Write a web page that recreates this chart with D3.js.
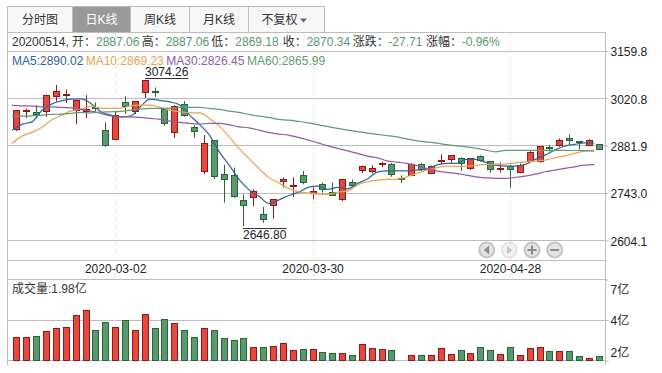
<!DOCTYPE html>
<html>
<head>
<meta charset="utf-8">
<script src="https://cdn.jsdelivr.net/npm/d3@7"></script>
<style>
  html, body { margin: 0; padding: 0; background: #fff; }
  svg { display: block; }
  text { font-family: "Liberation Sans", "Noto Sans CJK SC", sans-serif; font-size: 12px; }
</style>
</head>
<body>
<div id="chart"></div>
<script>
// daily candles, one entry per trading day
var dates = [
  "2020-02-17","2020-02-18","2020-02-19","2020-02-20","2020-02-21","2020-02-24","2020-02-25","2020-02-26","2020-02-27","2020-02-28",
  "2020-03-02","2020-03-03","2020-03-04","2020-03-05","2020-03-06","2020-03-09","2020-03-10","2020-03-11","2020-03-12","2020-03-13",
  "2020-03-16","2020-03-17","2020-03-18","2020-03-19","2020-03-20","2020-03-23","2020-03-24","2020-03-25","2020-03-26","2020-03-27",
  "2020-03-30","2020-03-31","2020-04-01","2020-04-02","2020-04-03","2020-04-07","2020-04-08","2020-04-09","2020-04-10","2020-04-13",
  "2020-04-14","2020-04-15","2020-04-16","2020-04-17","2020-04-20","2020-04-21","2020-04-22","2020-04-23","2020-04-24","2020-04-27",
  "2020-04-28","2020-04-29","2020-04-30","2020-05-06","2020-05-07","2020-05-08","2020-05-11","2020-05-12","2020-05-13","2020-05-14"
];
var opens = [
  2929,2981,2979,2982,3025,3028,2984,2981,2995,2927,
  2901,3009,2982,3038,3042,2988,2920,3003,2936,2806,
  2898,2798,2795,2722,2730,2681,2707,2776,2763,2796,
  2742,2769,2745,2725,2774,2810,2807,2827,2827,2787,
  2795,2827,2801,2838,2841,2845,2815,2851,2835,2811,
  2822,2804,2835,2836,2877,2884,2903,2895,2883,2887.06
];
var highs = [
  2986,2991,3001,3032,3060,3047,3016,3030,3009,2950,
  2981,3027,3012,3074.26,3053,2991,3001,3013,2942,2913,
  2898,2826,2818,2739,2754,2703,2723,2789,2789,2808,
  2760,2773,2774,2783,2783,2824,2825,2835,2831,2795,
  2830,2831,2824,2857,2853,2848,2844,2854,2837,2833,
  2825,2830,2866,2880,2884,2903,2915,2896,2901,2887.06
];
var lows = [
  2925,2963,2963,2967,3011,3007,2945,2963,2981,2879,
  2900,2975,2975,3022,3025,2940,2905,2967,2905,2799,
  2784,2715,2729,2646.8,2705,2656,2668,2759,2732,2769,
  2725,2744,2734,2720,2762,2802,2801,2819,2791,2773,
  2795,2808,2799,2827,2832,2808,2811,2835,2803,2803,
  2759,2801,2835,2832,2865,2879,2884,2871,2881,2869.18
];
var closes = [
  2985,2984,2975,3029,3041,3033,3016,2989,2992,2883,
  2971,2996,3012,3072,3038,2947,2998,2970,2923,2889,
  2791,2783,2733,2707,2747,2665,2723,2783,2766,2774,
  2748,2754,2735,2783,2766,2821,2815,2829,2798,2785,
  2827,2811,2820,2840,2853,2831,2844,2838,2813,2815,
  2811,2823,2862,2880,2873,2898,2898,2891,2898,2870.34
];
var volumes = [
  3.22,3.22,3.28,3.61,3.81,3.87,4.66,4.98,3.68,4.2,
  3.87,4.33,3.68,4.72,3.81,4.39,4.13,3.68,3.22,3.81,
  3.68,3.15,3.02,3.15,2.56,2.56,2.63,2.82,2.37,2.43,
  2.43,2.24,2.17,2.17,2.04,2.76,2.5,2.43,2.37,1.73,
  2.04,2.04,2.04,2.5,2.11,2.37,2.17,2.56,2.37,2.11,
  2.56,2.04,2.5,2.56,2.3,2.3,2.3,1.97,1.84,1.98
];
var ma5 = [
  2927,2944.6,2952,2984.4,3004,3013.7,3018.7,3019.6,3006,2981.5,
  2971.8,2966.8,2968.9,2996.2,3018.7,3014.9,3010.8,3001.1,2971.8,2944.6,
  2913.2,2864.2,2825.2,2783.3,2753.4,2734.3,2712.9,2722.6,2735.2,2745.2,
  2759.8,2763.6,2754,2759.8,2755.7,2771.6,2784.2,2804.7,2808.5,2808.5,
  2808.5,2810.6,2812.6,2825.2,2830.2,2830.2,2841.9,2841.9,2833.1,2825.2,
  2822.3,2822.3,2827.3,2841.9,2854.5,2869.2,2880.9,2885.9,2890.6,2890.02
];
var ma10 = [
  2888.8,2910.2,2921.1,2935.8,2957.2,2971.8,2984.4,2989.4,2998.2,2991.5,
  2991.5,2991.5,2999.1,3001.1,3001.1,2994.4,2986.5,2981.5,2978.6,2978.6,
  2962.1,2939.6,2908.2,2874.2,2844.9,2815.5,2789.2,2773.3,2756.9,2746.9,
  2744,2740.2,2739.3,2746.1,2749,2766.6,2776.3,2781.2,2783.3,2783.3,
  2790.9,2800.9,2810.6,2817.3,2822.3,2821.4,2822.3,2824.3,2827.3,2828.2,
  2828.2,2832,2834.9,2837,2839.9,2846.6,2852.5,2859.5,2866.3,2869.23
];
var ma30 = [
  3000.3,2999.1,2998.2,2996.2,2996.2,2994.4,2993.2,2988.5,2983.5,2976.8,
  2969.8,2966.8,2966.8,2965.1,2962.1,2959.2,2954.2,2950.4,2947.5,2945.4,
  2947.5,2947.5,2943.4,2937.5,2934.6,2927.8,2921.1,2916.1,2913.2,2906.4,
  2898.5,2890.6,2881.8,2874.2,2867.1,2859.5,2851.6,2846.6,2837.8,2834,
  2830.2,2823.2,2815.5,2808.5,2803.8,2800.9,2795.9,2790.9,2788,2786.2,
  2786.2,2789.2,2793,2798.8,2805.6,2810.6,2815.5,2820.2,2825.2,2826.45
];
var ma60 = [
  2968.9,2968.9,2969.8,2971.8,2973.9,2974.8,2976.8,2979.7,2978.6,2980.6,
  2981.5,2982.7,2986.5,2989.4,2991.5,2991.5,2992.3,2994.4,2994.4,2994.4,
  2991.5,2988.5,2983.5,2979.7,2973.9,2968.9,2965.1,2959.2,2957.2,2953.4,
  2949.2,2944,2938.1,2932.8,2927.8,2923.4,2919,2915.2,2911.7,2907.9,
  2902,2896.5,2893.2,2889.7,2885.3,2881.8,2878.9,2875,2869.2,2864.2,
  2868.3,2868.3,2868.3,2868.3,2868.2,2868.2,2868.1,2868,2867.5,2865.99
];

var priceTicks = [3159.8, 3020.8, 2881.9, 2743, 2604.1];
var volumeTicks = [7, 4.35, 1.7];
var dateTicks = ["2020-03-02", "2020-03-30", "2020-04-28"];
var tabs = ["分时图", "日K线", "周K线", "月K线", "不复权"];

var maNames = ["MA5", "MA10", "MA30", "MA60"];
var maLabels = ["2890.02", "2869.23", "2826.45", "2865.99"];
var maSeries = [ma5, ma10, ma30, ma60];
var maColors = ["#2f6496", "#e8a451", "#8f5ba6", "#5f9a76"];

var infoLabels = ["20200514, 开：", "高：", "低：", "收：", "涨跌：", "涨幅："];
var infoValues = ["2887.06", "2887.06", "2869.18", "2870.34", "-27.71", "-0.96%"];

var red = "#e5483d", redDark = "#8c1a1c";
var green = "#5a9870", greenDark = "#2a6534";
var gridColor = "#bdbdbd";

var w = 662, h = 373;
var svg = d3.select("#chart").append("svg").attr("width", w).attr("height", h);

var left = 7.5, right = 605.5;

var x = d3.scaleBand().domain(dates).range([12, 604.2]);
var yPrice = d3.scaleLinear().domain([2604.1, 3159.8]).range([240.5, 51]);
var yVol = d3.scaleLinear().domain([1.7, 7]).range([360.5, 279.5]);

function crisp(v) { return Math.floor(v) + 0.5; }
function center(i) { return crisp(x(dates[i]) + x.bandwidth() / 2); }
function isUp(i) { return closes[i] >= opens[i]; }

// ---- frame and grid
var gGrid = svg.append("g").attr("stroke", gridColor).attr("fill", "none");
function hline(y, x2) {
  gGrid.append("line").attr("x1", left).attr("x2", x2).attr("y1", y).attr("y2", y);
}
priceTicks.forEach(function(p) { hline(crisp(yPrice(p)), right); });
hline(32.5, right);
hline(260.5, right);
hline(279.5, right);
hline(crisp(yVol(4.35)), right);
hline(360.5, right);
gGrid.append("line").attr("x1", left).attr("x2", left).attr("y1", 6).attr("y2", 365);
gGrid.append("line").attr("x1", right).attr("x2", right).attr("y1", 32).attr("y2", 365);

svg.append("g").selectAll("line").data(dateTicks).join("line")
  .attr("x1", function(d) { return crisp(x(d) + x.bandwidth() / 2); })
  .attr("x2", function(d) { return crisp(x(d) + x.bandwidth() / 2); })
  .attr("y1", 33).attr("y2", 279)
  .attr("stroke", "#e2e2e2")
  .attr("stroke-dasharray", "4,4");

// ---- tabs
var tabEdges = [7.5, 72.5, 130.5, 189.5, 248.5, 324.5];
var gTabs = svg.append("g");
tabs.forEach(function(t, i) {
  gTabs.append("rect")
    .attr("x", tabEdges[i]).attr("y", 6.5)
    .attr("width", tabEdges[i + 1] - tabEdges[i]).attr("height", 26)
    .attr("fill", i == 1 ? "#999999" : "#f7f7f7")
    .attr("stroke", gridColor);
  gTabs.append("text")
    .attr("x", i == 4 ? tabEdges[i] + 13 : (tabEdges[i] + tabEdges[i + 1]) / 2)
    .attr("y", 24)
    .attr("text-anchor", i == 4 ? "start" : "middle")
    .attr("fill", i == 1 ? "#fff" : "#333")
    .text(t);
});
gTabs.append("path").attr("d", "M300 18.5h7l-3.5 4z").attr("fill", "#666");

// ---- info rows
var labelX = [12, 141.7, 211.3, 282.7, 352.7, 426];
var valueX = [96, 165.7, 235.3, 306.7, 388.3, 461.7];
var gInfo = svg.append("g");
gInfo.selectAll("text.lab").data(infoLabels).join("text")
  .attr("class", "lab")
  .attr("x", function(d, i) { return labelX[i]; })
  .attr("y", 46)
  .attr("fill", "#333")
  .text(function(d) { return d; });
gInfo.selectAll("text.val").data(infoValues).join("text")
  .attr("class", "val")
  .attr("x", function(d, i) { return valueX[i]; })
  .attr("y", 46)
  .attr("fill", green)
  .text(function(d) { return d; });

var maX = [12, 85.7, 166.3, 247];
svg.append("g").selectAll("text").data(maNames).join("text")
  .attr("x", function(d, i) { return maX[i]; })
  .attr("y", 65)
  .attr("fill", function(d, i) { return maColors[i]; })
  .text(function(d, i) { return d + ":" + maLabels[i]; });

// ---- candles
var gCandles = svg.append("g");
var candles = gCandles.selectAll("g").data(d3.range(dates.length)).join("g");
candles.append("line")
  .attr("x1", center).attr("x2", center)
  .attr("y1", function(i) { return yPrice(highs[i]); })
  .attr("y2", function(i) { return yPrice(lows[i]); })
  .attr("stroke", function(i) { return isUp(i) ? redDark : greenDark; });
candles.append("rect")
  .attr("x", function(i) { return center(i) - 3; })
  .attr("width", 6)
  .attr("y", function(i) { return crisp(yPrice(Math.max(opens[i], closes[i]))); })
  .attr("height", function(i) {
    var top = crisp(yPrice(Math.max(opens[i], closes[i])));
    return Math.max(crisp(yPrice(Math.min(opens[i], closes[i]))) - top, 1);
  })
  .attr("fill", function(i) { return isUp(i) ? red : green; })
  .attr("stroke", function(i) { return isUp(i) ? redDark : greenDark; });

// ---- moving averages, drawn at the left edge of each candle slot
maSeries.forEach(function(series, k) {
  var line = d3.line()
    .x(function(d, i) { return x(dates[i]); })
    .y(function(d) { return yPrice(d); })
    .curve(d3.curveMonotoneX);
  svg.append("path")
    .attr("d", line(series))
    .attr("fill", "none")
    .attr("stroke", maColors[k])
    .attr("stroke-width", 1.2);
});

// ---- high / low labels
var iHigh = highs.indexOf(d3.max(highs)), iLow = lows.indexOf(d3.min(lows));
function extreme(i, value, textY, lineY) {
  var lx = center(i) - 0.5;
  var t = svg.append("text").attr("x", lx).attr("y", textY).attr("fill", "#222")
    .text(value.toFixed(2));
  svg.append("line")
    .attr("x1", lx).attr("x2", lx + t.node().getComputedTextLength())
    .attr("y1", lineY).attr("y2", lineY)
    .attr("stroke", "#333");
}
extreme(iHigh, highs[iHigh], 76, 78.5);
extreme(iLow, lows[iLow], 239, 228.5);

// ---- volume bars
svg.append("g").selectAll("rect").data(d3.range(dates.length)).join("rect")
  .attr("x", function(i) { return center(i) - 3; })
  .attr("width", 6)
  .attr("y", function(i) { return crisp(yVol(volumes[i])); })
  .attr("height", function(i) { return 360.5 - crisp(yVol(volumes[i])); })
  .attr("fill", function(i) { return isUp(i) ? red : green; })
  .attr("stroke", function(i) { return isUp(i) ? redDark : greenDark; });

svg.append("text").attr("x", 12).attr("y", 293).attr("fill", "#333").text("成交量:1.98亿");

// ---- axes
var priceAxis = d3.axisRight(yPrice).tickValues(priceTicks).tickSize(3).tickPadding(2)
  .tickFormat(function(d) { return d.toFixed(1); });
var gPriceAxis = svg.append("g").attr("transform", "translate(" + right + ",0)").call(priceAxis);

var volAxis = d3.axisRight(yVol).tickValues(volumeTicks).tickSize(3).tickPadding(2)
  .tickFormat(function(d) { return Math.round(d) + "亿"; });
var gVolAxis = svg.append("g").attr("transform", "translate(" + right + ",0)").call(volAxis);
var volShift = [10.5, 0.5, -7.5];
gVolAxis.selectAll("text").attr("transform", function(d, i) { return "translate(0," + volShift[i] + ")"; });

[gPriceAxis, gVolAxis].forEach(function(g) {
  g.select(".domain").remove();
  g.selectAll("line").attr("stroke", gridColor);
  g.selectAll("text").attr("fill", "#222").style("font-size", "12px")
    .style("font-family", '"Liberation Sans", "Noto Sans CJK SC", sans-serif');
});
gPriceAxis.selectAll("text").attr("dy", "0.32em").attr("y", 1);

var dateAxis = d3.axisBottom(x).tickValues(dateTicks).tickSize(0).tickPadding(0);
var gDateAxis = svg.append("g").attr("transform", "translate(0,264)").call(dateAxis);
gDateAxis.select(".domain").remove();
gDateAxis.selectAll("text").attr("fill", "#222").style("font-size", "12px")
  .style("font-family", '"Liberation Sans", "Noto Sans CJK SC", sans-serif');

// ---- zoom buttons on the chart
var buttons = ["prev", "next", "plus", "minus"];
var bx = d3.scalePoint().domain(buttons).range([486.7, 554.7]);
var gBtn = svg.append("g").selectAll("g").data(buttons).join("g")
  .attr("transform", function(d) { return "translate(" + bx(d) + ",250)"; })
  .attr("opacity", function(d) { return d == "next" ? 0.45 : 1; });
gBtn.append("circle").attr("r", 7.5).attr("fill", "#e4e4e4").attr("stroke", "#c4c4c4").attr("stroke-width", 2);
gBtn.append("path")
  .attr("d", function(d) {
    if (d == "prev") return "M2.5 -4.5L-3 0L2.5 4.5z";
    if (d == "next") return "M-2.5 -4.5L3 0L-2.5 4.5z";
    if (d == "plus") return "M-4.5 -1H-1V-4.5H1V-1H4.5V1H1V4.5H-1V1H-4.5z";
    return "M-4.5 -1H4.5V1H-4.5z";
  })
  .attr("fill", "#8c8c8c");
</script>
</body>
</html>
